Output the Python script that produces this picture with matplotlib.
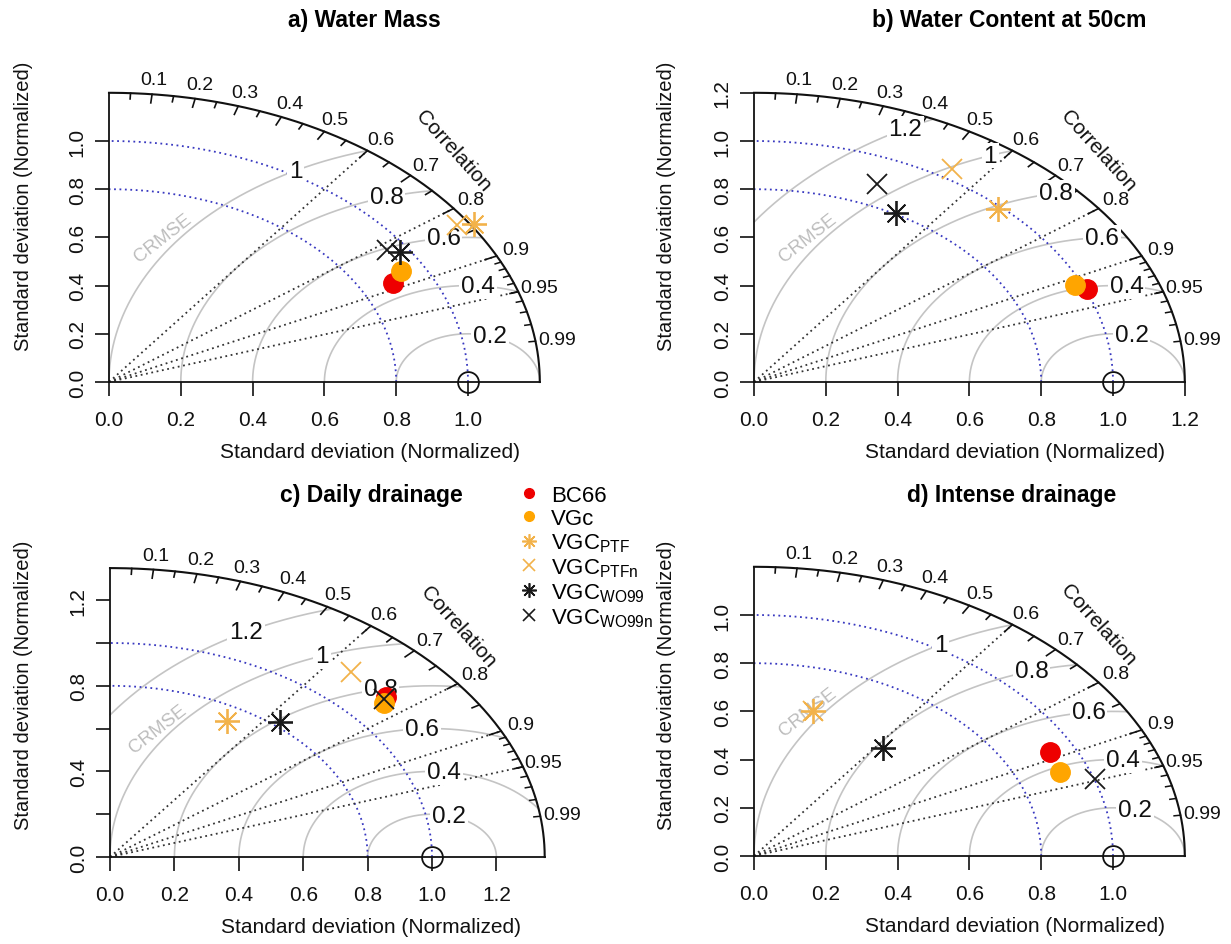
import numpy as np
import matplotlib
matplotlib.use("Agg")
import matplotlib.pyplot as plt
from matplotlib.lines import Line2D

plt.rcParams["font.family"] = ["Liberation Sans", "DejaVu Sans"]

W, H = 1231, 945

models = ["BC66", "VGc", "VGC_PTF", "VGC_PTFn", "VGC_WO99", "VGC_WO99n"]
legend_text = ["BC66", "VGc", r"VGC$_{\mathregular{PTF}}$", r"VGC$_{\mathregular{PTFn}}$",
               r"VGC$_{\mathregular{WO99}}$", r"VGC$_{\mathregular{WO99n}}$"]
colors = ["#ee0000", "#ffa500", "#f2b24a", "#f2b24a", "#1a1a1a", "#1a1a1a"]
markers = ["o", "o", (8, 2, 0), "x", (8, 2, 0), "x"]
msizes = [14, 14, 18, 15, 18, 15]

titles = ["a) Water Mass", "b) Water Content at 50cm", "c) Daily drainage", "d) Intense drainage"]

# normalized standard deviation / correlation of each model
sd_a = [0.890, 0.934, 1.209, 1.168, 0.972, 0.949]
cor_a = [0.888, 0.870, 0.841, 0.830, 0.833, 0.817]
sd_b = [1.006, 0.980, 0.990, 1.042, 0.804, 0.889]
cor_b = [0.923, 0.911, 0.687, 0.530, 0.492, 0.386]
sd_c = [1.138, 1.112, 0.731, 1.144, 0.821, 1.129]
cor_c = [0.753, 0.764, 0.497, 0.654, 0.643, 0.755]
sd_d = [0.931, 0.919, 0.622, 0.622, 0.576, 1.001]
cor_d = [0.885, 0.926, 0.265, 0.265, 0.625, 0.948]

# CRMSE contours and axis ticks per panel
gamma_a = [0.2, 0.4, 0.6, 0.8, 1.0]
gamma_b = [0.2, 0.4, 0.6, 0.8, 1.0, 1.2]
gamma_c = [0.2, 0.4, 0.6, 0.8, 1.0, 1.2]
gamma_d = [0.2, 0.4, 0.6, 0.8, 1.0]
ticks_a = [0.0, 0.2, 0.4, 0.6, 0.8, 1.0]
ticks_b = [0.0, 0.2, 0.4, 0.6, 0.8, 1.0, 1.2]
ticks_c = [0.0, 0.2, 0.4, 0.6, 0.8, 1.0, 1.2]
ticks_d = [0.0, 0.2, 0.4, 0.6, 0.8, 1.0]
cor_ticks = [0.1, 0.2, 0.3, 0.4, 0.5, 0.6, 0.7, 0.8, 0.9, 0.95, 0.99]
cor_lines = [0.6, 0.8, 0.9, 0.95]
sd_arcs = [0.8, 1.0]

# label angle (deg, around the reference point) for each CRMSE contour
glab5 = [72, 86, 96.5, 106.5, 118.7]
glab6 = [75, 84.6, 93, 101.5, 110, 118.8]

panels = [
    dict(sd=sd_a, cor=cor_a, gamma=gamma_a, ticks=ticks_a, yshow=ticks_a, glab=glab5,
         ox=109, oy=383, rmax=1.2, sx=359, sy=241, tx=364, ty=20, yl=(24, 206)),
    dict(sd=sd_b, cor=cor_b, gamma=gamma_b, ticks=ticks_b, yshow=ticks_b, glab=glab6,
         ox=754, oy=383, rmax=1.2, sx=359, sy=241, tx=1009, ty=20, yl=(666, 206)),
    dict(sd=sd_c, cor=cor_c, gamma=gamma_c, ticks=ticks_c, yshow=[0.0, 0.4, 0.8, 1.2], glab=glab6,
         ox=110, oy=858, rmax=1.35, sx=322, sy=214, tx=371, ty=496, yl=(24, 685)),
    dict(sd=sd_d, cor=cor_d, gamma=gamma_d, ticks=ticks_d, yshow=ticks_d, glab=glab5,
         ox=754, oy=857, rmax=1.2, sx=359, sy=241, tx=1012, ty=496, yl=(666, 685)),
]


def fx(px):
    return px / W


def fy(py):
    return 1 - py / H


def taylor(fig, p, title):
    rmax = p["rmax"]
    ax = fig.add_axes([fx(p["ox"]), fy(p["oy"]), rmax * p["sx"] / W, rmax * p["sy"] / H])
    ax.set_xlim(0, rmax)
    ax.set_ylim(0, rmax)
    ax.patch.set_visible(False)
    for s in ["top", "right"]:
        ax.spines[s].set_visible(False)
    for s in ["left", "bottom"]:
        ax.spines[s].set_linewidth(1.3)
        ax.spines[s].set_color("#111111")
    ax.set_xticks(p["ticks"])
    ax.set_xticklabels([f"{t:.1f}" for t in p["ticks"]])
    ax.set_yticks(p["ticks"])
    ax.set_yticklabels([f"{t:.1f}" if t in p["yshow"] else "" for t in p["ticks"]],
                       rotation=90, va="center")
    ax.tick_params(direction="out", length=10, width=1.2, labelsize=15, pad=10, colors="#111111")
    ax.tick_params(axis="y", pad=6)

    # outer correlation arc
    t = np.linspace(0, np.pi / 2, 300)
    ax.plot(rmax * np.cos(t), rmax * np.sin(t), color="#111111", lw=1.5, clip_on=False)

    # sd arcs (blue dotted)
    for r in sd_arcs:
        ax.plot(r * np.cos(t), r * np.sin(t), color="#3838c0", lw=1.3, ls=(0, (1, 2)), clip_on=False)

    # correlation rays
    for c in cor_lines:
        a = np.arccos(c)
        ax.plot([0, rmax * np.cos(a)], [0, rmax * np.sin(a)], color="#333333", lw=1.3,
                ls=(0, (1, 2)), clip_on=False)

    # correlation ticks
    for c in np.arange(0.1, 0.91, 0.1):
        a = np.arccos(c)
        ax.plot([rmax * np.cos(a), 0.97 * rmax * np.cos(a)], [rmax * np.sin(a), 0.97 * rmax * np.sin(a)],
                color="#111111", lw=1.2, clip_on=False)
    for c in np.arange(0.05, 0.96, 0.1):
        a = np.arccos(c)
        ax.plot([rmax * np.cos(a), 0.98 * rmax * np.cos(a)], [rmax * np.sin(a), 0.98 * rmax * np.sin(a)],
                color="#111111", lw=1.2, clip_on=False)
    for c in np.arange(0.91, 0.995, 0.01):
        a = np.arccos(c)
        ax.plot([rmax * np.cos(a), 0.985 * rmax * np.cos(a)], [rmax * np.sin(a), 0.985 * rmax * np.sin(a)],
                color="#111111", lw=1.1, clip_on=False)
    for c in cor_ticks:
        a = np.arccos(c)
        ax.text(1.05 * rmax * np.cos(a), 1.05 * rmax * np.sin(a), f"{c:g}", ha="center", va="center",
                fontsize=14, color="#111111")
    ax.text(0.8 * rmax, 0.8 * rmax, "Correlation", rotation=-48, ha="center", va="center",
            fontsize=15, color="#111111", rotation_mode="anchor")

    # CRMSE contours around the reference point
    tt = np.linspace(0, np.pi, 600)
    for g, lab_ang in zip(p["gamma"], p["glab"]):
        x = 1 + g * np.cos(tt)
        y = g * np.sin(tt)
        keep = (x ** 2 + y ** 2 <= rmax ** 2 + 1e-9) & (x >= 0)
        ax.plot(np.where(keep, x, np.nan), np.where(keep, y, np.nan), color="#c4c4c4", lw=1.2,
                clip_on=False, zorder=1)
        la = np.radians(lab_ang)
        ax.text(1 + g * np.cos(la), g * np.sin(la), f"{g:g}", ha="center", va="center", fontsize=17.5,
                color="#111111", zorder=3,
                bbox=dict(boxstyle="square,pad=0.08", fc="white", ec="none"))
    ax.text(0.15, 0.6, "CRMSE", rotation=38, ha="center", va="center", fontsize=13.5,
            color="#bdbdbd", rotation_mode="anchor", zorder=3)

    # reference point
    ax.plot([1.0], [0.0], marker="o", ms=15, mfc="none", mec="#111111", mew=1.3,
            clip_on=False, zorder=4)

    # models
    for sd, c, col, m, ms in zip(p["sd"], p["cor"], colors, markers, msizes):
        a = np.arccos(c)
        mew = 1.3 if m != "o" else 1
        ax.plot([sd * np.cos(a)], [sd * np.sin(a)], ls="none", marker=m, color=col, ms=ms,
                mew=mew, clip_on=False, zorder=5)

    fig.text(fx(p["tx"]), fy(p["ty"]), title, ha="center", va="center", fontsize=16.5,
             fontweight="bold")
    fig.text(fx(p["ox"] + 261), fy(p["oy"] + 70), "Standard deviation (Normalized)",
             ha="center", va="center", fontsize=15, color="#111111")
    fig.text(fx(p["yl"][0]), fy(p["yl"][1]), "Standard deviation (Normalized)", rotation=90,
             ha="center", va="center", fontsize=14.5, color="#111111")
    return ax


fig = plt.figure(figsize=(W / 100, H / 100), dpi=100)
for p, title in zip(panels, titles):
    taylor(fig, p, title)

handles = []
for col, m, ms in zip(colors, markers, msizes):
    handles.append(Line2D([], [], ls="none", marker=m, color=col, ms=ms * (0.5 if m == "o" else 0.58),
                          mew=1.2 if m != "o" else 1))
fig.legend(handles, legend_text, loc="upper left", bbox_to_anchor=(fx(518), fy(486)),
           frameon=False, fontsize=16, handlelength=1.0, handletextpad=0.5,
           labelspacing=0.1, borderpad=0, borderaxespad=0)

fig.savefig("out.png", dpi=100)
